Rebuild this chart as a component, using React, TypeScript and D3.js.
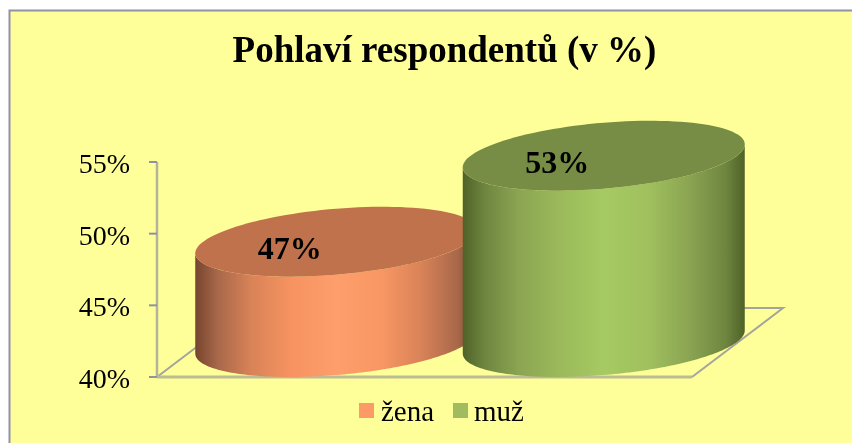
import React from "react";
import * as d3 from "d3";

const title = "Pohlaví respondentů (v %)";
const categories = ["žena", "muž"];
const values = [47, 53];
const valueLabels = ["47%", "53%"];
const yTicks = [40, 45, 50, 55];
const sideStops = [
  [
    [0, "#76452f"], [0.08, "#a8684a"], [0.2, "#d98358"], [0.34, "#f69360"], [0.5, "#fd9e6c"],
    [0.66, "#f89763"], [0.8, "#d98358"], [0.93, "#a8684a"], [1, "#76452f"],
  ],
  [
    [0, "#4f6228"], [0.08, "#6f8640"], [0.2, "#8ba552"], [0.34, "#9bb95a"], [0.5, "#a6ca63"],
    [0.66, "#a0c05e"], [0.8, "#8ba552"], [0.93, "#6f8640"], [1, "#4f6228"],
  ],
];
const topColors = ["#c0724c", "#778c45"];
const swatchColors = ["#fd9a66", "#a0bc5e"];

const font = "'Liberation Serif','Times New Roman',serif";
const plotLeft = 157;
const plotRight = 692;
const depthX = 91;
const depthY = 69;

const y = d3.scaleLinear().domain([40, 55]).range([377, 162]);
const x = d3.scaleBand().domain(categories).range([plotLeft, plotRight]);

const radiusX = 141;
const shear = 11.5;
const radiusY = 33;
const line = d3.line();

function arc(cx: number, cy: number, from: number, to: number): [number, number][] {
  return d3.range(0, 121).map((i) => {
    const t = from + ((to - from) * i) / 120;
    const c = Math.cos(t);
    const s = Math.sin(t);
    return [cx + radiusX * c, cy + radiusY * s - shear * c];
  });
}
const frontDrop = d3.max(arc(0, 0, 0, Math.PI), (p) => p[1])!;

export default function App() {
  return (
    <svg width={852} height={443} style={{ position: "absolute", left: 0, top: 0, display: "block" }}>
      <defs>
        {categories.map((c, i) => (
          <linearGradient key={c} id={`side${i}`} x1="0" x2="1" y1="0" y2="0">
            {sideStops[i].map(([o, col]) => (
              <stop key={String(o)} offset={o as number} stopColor={col as string} />
            ))}
          </linearGradient>
        ))}
        <filter id="soft" x="-5%" y="-5%" width="110%" height="110%">
          <feGaussianBlur stdDeviation="0.4" />
        </filter>
      </defs>
      <rect width={852} height={443} fill="#ffffff" />
      <rect x={9} y={10} width={843} height={433} fill="#ffff99" />
      <path d="M9.5,443V10.5H852" fill="none" stroke="#8f92a8" strokeWidth={2} />

      <text x={444.5} y={62} textAnchor="middle" fontFamily={font} fontWeight="bold" fontSize={37} fill="#000" filter="url(#soft)">
        {title}
      </text>

      <g fill="none" strokeWidth={2}>
        <path d={`M${plotLeft},${y(40)}L${plotLeft + depthX},${y(40) - depthY}H${plotRight + depthX}L${plotRight},${y(40)}`} stroke="#a4a49c" />
        <path d={`M${plotLeft},${y(40)}H${plotRight}`} stroke="#bcbc94" strokeWidth={3} />
        <path d={`M${plotLeft},${y(55)}V${y(40)}`} stroke="#b4b49a" strokeWidth={2.5} />
        {yTicks.map((t) => (
          <line key={t} x1={plotLeft - 8} x2={plotLeft} y1={y(t)} y2={y(t)} stroke="#8f92a0" />
        ))}
      </g>
      {yTicks.map((t) => (
        <text key={t} x={130} y={y(t) + 11} textAnchor="end" fontFamily={font} fontSize={28} fill="#000" filter="url(#soft)">
          {`${t}%`}
        </text>
      ))}

      {categories.map((c, i) => {
        const cx = x(c)! + x.bandwidth() / 2 + depthX / 2;
        const topY = y(values[i]) - frontDrop;
        const baseY = y(40) - frontDrop;
        const side = [...arc(cx, baseY, Math.PI, 0), ...arc(cx, topY, 0, Math.PI)];
        const top = arc(cx, topY, 0, 2 * Math.PI);
        return (
          <g key={c}>
            <path d={line(side)!} fill={`url(#side${i})`} />
            <path d={line(top)! + "Z"} fill={topColors[i]} />
          </g>
        );
      })}
      {categories.map((c, i) => (
        <text key={c} x={x(c)! + x.bandwidth() / 2 - 1} y={y(values[i]) - 18} textAnchor="middle" fontFamily={font} fontWeight="bold" fontSize={32} fill="#000" filter="url(#soft)">
          {valueLabels[i]}
        </text>
      ))}

      {categories.map((c, i) => (
        <g key={c}>
          <rect x={[359, 453][i]} y={403} width={15} height={15} fill={swatchColors[i]} />
          <text x={[381, 474][i]} y={421} fontFamily={font} fontSize={29} fill="#000" filter="url(#soft)">
            {c}
          </text>
        </g>
      ))}
    </svg>
  );
}
